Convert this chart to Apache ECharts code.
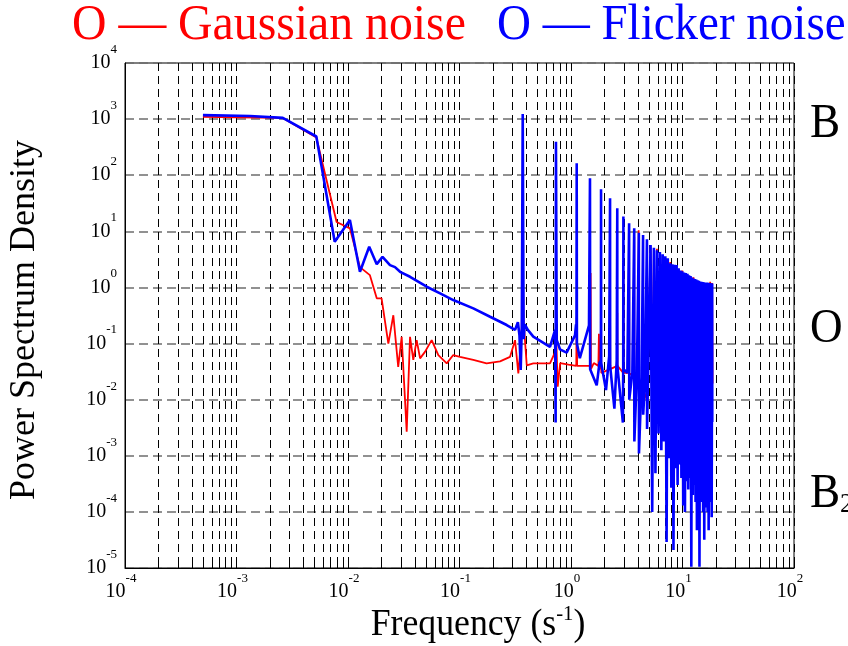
<!DOCTYPE html>
<html><head><meta charset="utf-8">
<script src="https://cdn.jsdelivr.net/npm/echarts@6/dist/echarts.min.js"></script>
<style>html,body{margin:0;padding:0;background:#fff}#c{width:848px;height:646px}</style>
</head><body><div id="c"></div>
<script>
// ---- data (frequency in s^-1, PSD) ----
// Gaussian noise (red)
const gaussLowFreq = [5.0e-4,1.0e-3,2.6e-3,5.2e-3,7.9e-3,1.04e-2,1.28e-2,1.57e-2,1.81e-2,2.0e-2,2.3e-2,2.55e-2,2.82e-2,3.03e-2,3.36e-2,3.6e-2,3.85e-2,4.13e-2,4.43e-2,4.9e-2,5.63e-2,6.46e-2,7.68e-2,8.79e-2,0.101,0.133,0.175,0.231,0.284,0.315,0.337,0.361,0.369,0.376,0.401,0.459,0.648];
const gaussLowPsd  = [1100,1080,1050,470,14.7,11.3,2.3,1.66,0.64,0.64,0.10,0.32,0.0385,0.132,0.00268,0.132,0.051,0.115,0.0544,0.071,0.115,0.0624,0.0444,0.0624,0.058,0.051,0.0444,0.048,0.058,0.115,0.0294,0.15,2.6,0.25,0.041,0.0444,0.0444];
const gaussHarmFreq = [0.72,0.74,0.76,0.8,0.95,1.115,1.125,1.135,1.3,1.49,1.50,1.51,1.6,1.76,1.78,1.80,1.855,1.86,1.87,2.235,2.24,2.25,2.595,2.6,2.61,2.945,2.95,2.96,3.315,3.32,3.33,3.685,3.69,3.70,4.035,4.045,4.06,4.425,4.43,4.44,4.795,4.80,4.81,4.95];
const gaussHarmPsd  = [0.07,0.1,0.017,0.045,0.042,0.04,0.3,0.04,0.04,0.04,1.8,0.035,0.045,0.04,0.15,0.04,0.035,0.3,0.03,0.035,0.5,0.035,0.04,0.35,0.04,0.03,2.0,0.03,0.03,6.0,0.03,0.025,8.0,0.025,0.02,10.5,0.02,0.015,7.0,0.015,0.01,6.5,0.01,0.01];
const gaussDenseFreq = [5.17,5.35,5.54,5.72,5.90,6.09,6.27,6.46,6.64,6.83,7.01,7.2,7.38,7.57,7.75,7.94,8.12,8.3,8.49,8.67,8.86,9.04,9.23,9.41,9.59,9.78,9.96,10.15,10.33,10.52,10.70,10.89,11.07,11.26,11.44,11.63,11.81,12.0,12.18,12.37,12.55,12.74,12.92,13.1,13.28,13.47,13.65,13.84,14.02,14.2,14.39,14.57,14.76,14.94,15.13,15.31,15.50,15.68,15.87,16.05,16.24,16.42,16.61,16.79,16.97,17.16,17.34,17.53,17.71,17.9,18.08,18.27,18.45,18.6];
const gaussDensePsd  = [5.4,0.006,4.8,0.005,4.9,0.005,4.1,0.004,3.7,0.004,3.4,0.0008,3.1,0.003,2.85,0.003,2.5,0.003,2.45,0.0025,2.4,0.0025,2.1,0.0025,1.9,0.002,2.0,0.002,1.78,0.002,1.72,0.002,1.68,0.002,1.58,0.002,1.53,0.0018,1.44,0.0018,1.52,0.0018,1.36,0.0018,1.32,0.0016,1.3,0.0016,1.27,0.0016,1.23,0.0016,1.21,0.0015,1.2,0.0015,1.19,0.0015,1.18,0.0015,1.17,0.0014,1.17,0.0014,1.16,0.0014,1.15,0.0014,1.26,0.0013,1.14,0.0013,1.2,0.0195];

// Flicker noise (blue)
const flickerLowFreq = [5.0e-4,1.32e-3,2.6e-3,5.2e-3,7.6e-3,1.04e-2,1.28e-2,1.55e-2,1.81e-2,2.04e-2,2.38e-2,2.64e-2,2.93e-2,3.6e-2,5.08e-2,6.7e-2,8.79e-2,0.133,0.188,0.265,0.315,0.334,0.345,0.354,0.362,0.369,0.376,0.385,0.41,0.459,0.648];
const flickerLowPsd  = [1180,1135,1050,490,6.5,15.9,1.9,5.3,2.6,3.5,2.5,2.3,1.9,1.55,1.03,0.785,0.596,0.424,0.30,0.214,0.175,0.24,0.14,0.0337,0.2,1230,0.12,0.22,0.175,0.133,0.0876];
const flickerHarmFreq = [0.72,0.728,0.733,0.745,0.796,0.914,1.086,1.11,1.12,1.125,1.13,1.2,1.45,1.475,1.48,1.485,1.5,1.70,1.80,1.855,1.86,1.865,2.06,2.2,2.235,2.24,2.245,2.45,2.57,2.595,2.60,2.605,2.92,2.94,2.95,2.96,3.2,3.31,3.32,3.33,3.55,3.68,3.69,3.70,3.9,4.05,4.06,4.07,4.3,4.42,4.43,4.44,4.6,4.79,4.80,4.81,4.95];
const flickerHarmPsd  = [0.175,0.0039,396,0.115,0.079,0.069,0.14,0.22,0.2,163,0.1,0.055,0.21,0.2,88,0.035,0.035,0.018,0.045,0.05,56,0.045,0.0148,0.06,0.06,38.7,0.04,0.0069,0.05,0.05,25.8,0.04,0.0039,0.04,18.3,0.035,0.03,0.03,13.9,0.01,0.03,0.03,11.3,0.0018,0.03,0.03,9.4,0.0011,0.025,0.025,8.6,0.0054,0.02,0.02,7.2,0.003,0.003];
const flickerDenseFreq = [5.17,5.35,5.54,5.72,5.90,6.09,6.27,6.46,6.64,6.83,7.01,7.2,7.38,7.57,7.75,7.94,8.12,8.3,8.49,8.67,8.86,9.04,9.23,9.41,9.59,9.78,9.96,10.15,10.33,10.52,10.70,10.89,11.07,11.26,11.44,11.63,11.81,12.0,12.18,12.37,12.55,12.74,12.92,13.1,13.28,13.47,13.65,13.84,14.02,14.2,14.39,14.57,14.76,14.94,15.13,15.31,15.50,15.68,15.87,16.05,16.24,16.42,16.61,16.79,16.97,17.16,17.34,17.53,17.71,17.9,18.08,18.27,18.45,18.5];
const flickerDensePsd  = [5.7,1.0e-4,5.1,4.9e-4,4.6,2.5e-3,4.3,1.26e-3,3.9,1.8e-3,3.6,2.9e-5,3.3,9e-4,2.7,2.7e-4,2.6,2.1e-5,2.55,6e-4,2.5,3.0e-4,2.2,7e-4,2.0,4e-4,1.95,1.3e-4,1.85,1.0e-4,1.8,3.5e-4,1.75,2.5e-4,1.65,4e-4,1.6,1.05e-5,1.5,2e-4,1.45,3e-4,1.42,1.5e-4,1.38,4.7e-5,1.35,2.5e-4,1.32,1.05e-5,1.28,1.5e-4,1.26,2e-4,1.25,1e-4,1.24,3.2e-5,1.23,1.2e-4,1.22,2e-4,1.22,1e-4,1.21,4.7e-5,1.2,1.5e-4,1.2,1.8e-4,1.19,8e-5,1.18,0.004];

const xTickExponents = [-4,-3,-2,-1,0,1,2];
const yTickExponents = [-5,-4,-3,-2,-1,0,1,2,3,4];
const minorMultipliers = [2,3,4,5,6,7,8,9];

// ---- build ----
const FONT = '"Liberation Serif", "Times New Roman", serif';
const yMin = Math.pow(10, yTickExponents[0]);
const yMax = Math.pow(10, yTickExponents[yTickExponents.length - 1]);
const minorValues = [];
xTickExponents.slice(0, -1).forEach(e => minorMultipliers.forEach(m => minorValues.push(m * Math.pow(10, e))));

const pairs = (fs, ps) => fs.map((f, i) => [f, ps[i]]);
const gaussData = [].concat(pairs(gaussLowFreq, gaussLowPsd), pairs(gaussHarmFreq, gaussHarmPsd), pairs(gaussDenseFreq, gaussDensePsd));
const flickerData = [].concat(pairs(flickerLowFreq, flickerLowPsd), pairs(flickerHarmFreq, flickerHarmPsd), pairs(flickerDenseFreq, flickerDensePsd));

const powLabel = v => '{b|10}{s|' + Math.round(Math.log10(v)) + '}';
const labelRich = {
  b: { fontFamily: FONT, fontSize: 20, color: '#000', lineHeight: 40 },
  s: { fontFamily: FONT, fontSize: 13, color: '#000', lineHeight: 14, verticalAlign: 'top' }
};

const chart = echarts.init(document.getElementById('c'), null, { renderer: 'canvas' });
chart.setOption({
  animation: false,
  backgroundColor: '#fff',
  grid: { left: 125, right: 54, top: 63, bottom: 78, show: true, borderColor: '#000', borderWidth: 1, backgroundColor: 'transparent' },
  xAxis: {
    type: 'log', logBase: 10, min: Math.pow(10, xTickExponents[0]), max: Math.pow(10, xTickExponents[xTickExponents.length - 1]),
    splitNumber: 6,
    axisLine: { show: true, onZero: false, lineStyle: { color: '#000', width: 1 } },
    axisTick: { show: true, inside: true, length: 8, lineStyle: { color: '#000' } },
    axisLabel: { formatter: powLabel, rich: labelRich, margin: 4, padding: [0, 8, 0, 0], showMinLabel: true, showMaxLabel: true },
    splitLine: { show: true, lineStyle: { color: '#000', type: [8, 5], width: 1 } }
  },
  yAxis: {
    type: 'log', logBase: 10, min: yMin, max: yMax,
    splitNumber: 9,
    axisLine: { show: true, onZero: false, lineStyle: { color: '#000', width: 1 } },
    axisTick: { show: false },
    axisLabel: { formatter: powLabel, rich: labelRich, margin: 8, showMinLabel: true, showMaxLabel: true },
    splitLine: { show: true, lineStyle: { color: '#6e6e6e', type: [9, 5], width: 1.5 } }
  },
  series: [
    {
      type: 'line', name: 'minorGrid', data: [], silent: true, showSymbol: false, z: 1,
      markLine: {
        silent: true, z: 1, animation: false, symbol: ['none', 'none'], label: { show: false },
        lineStyle: { color: '#000', type: [8, 5], width: 1 },
        emphasis: { disabled: true },
        data: minorValues.map(v => [{ coord: [v, yMax] }, { coord: [v, yMin] }])
      }
    },
    {
      type: 'line', name: 'minorTicks', data: [], silent: true, showSymbol: false, z: 1,
      markLine: {
        silent: true, z: 1, animation: false, symbol: ['none', 'none'], label: { show: false },
        lineStyle: { color: '#000', type: 'solid', width: 1 },
        emphasis: { disabled: true },
        data: minorValues.map(v => [{ coord: [v, yMin] }, { coord: [v, 1.4e-5] }])
      }
    },
    {
      type: 'line', name: 'Gaussian noise', data: gaussData, showSymbol: false, symbol: 'none', z: 3,
      lineStyle: { color: '#ff0000', width: 1.8 }, itemStyle: { color: '#ff0000' }
    },
    {
      type: 'line', name: 'Flicker noise', data: flickerData, showSymbol: false, symbol: 'none', z: 4,
      lineStyle: { color: '#0000ff', width: 2.6 }, itemStyle: { color: '#0000ff' }
    }
  ],
  graphic: [
    { type: 'text', x: 72, y: 26, scaleX: 0.955, style: { text: 'O — Gaussian noise', fill: '#ff0000', font: '50px ' + FONT, align: 'left', verticalAlign: 'middle', textAlign: 'left', textVerticalAlign: 'middle' } },
    { type: 'text', x: 497, y: 26, scaleX: 0.94, style: { text: 'O — Flicker noise', fill: '#0000ff', font: '50px ' + FONT, align: 'left', verticalAlign: 'middle', textAlign: 'left', textVerticalAlign: 'middle' } },
    { type: 'text', x: 810, y: 124, scaleX: 0.94, style: { text: 'B', fill: '#000', font: '48px ' + FONT, align: 'left', verticalAlign: 'middle', textAlign: 'left', textVerticalAlign: 'middle' } },
    { type: 'text', x: 810, y: 329, scaleX: 0.94, style: { text: 'O', fill: '#000', font: '48px ' + FONT, align: 'left', verticalAlign: 'middle', textAlign: 'left', textVerticalAlign: 'middle' } },
    { type: 'text', x: 810, y: 494, scaleX: 0.94, style: { text: '{a|B}{s|2}', align: 'left', verticalAlign: 'middle', textAlign: 'left', textVerticalAlign: 'middle',
        rich: { a: { fontFamily: FONT, fontSize: 48, lineHeight: 50, fill: '#000', color: '#000' }, s: { fontFamily: FONT, fontSize: 28, lineHeight: 26, verticalAlign: 'bottom', fill: '#000', color: '#000' } } } },
    { type: 'text', x: 478, y: 625, scaleX: 0.94, style: { text: '{a|Frequency (s}{s|-1}{a|)}', align: 'center', verticalAlign: 'middle', textAlign: 'center', textVerticalAlign: 'middle',
        rich: { a: { fontFamily: FONT, fontSize: 38, lineHeight: 44, fill: '#000', color: '#000' }, s: { fontFamily: FONT, fontSize: 22, lineHeight: 22, verticalAlign: 'top', fill: '#000', color: '#000' } } } },
    { type: 'text', x: 25, y: 320, rotation: Math.PI / 2, style: { text: 'Power Spectrum Density', fill: '#000', font: '36px ' + FONT, align: 'center', verticalAlign: 'middle', textAlign: 'center', textVerticalAlign: 'middle' } }
  ]
});
</script>
</body></html>
